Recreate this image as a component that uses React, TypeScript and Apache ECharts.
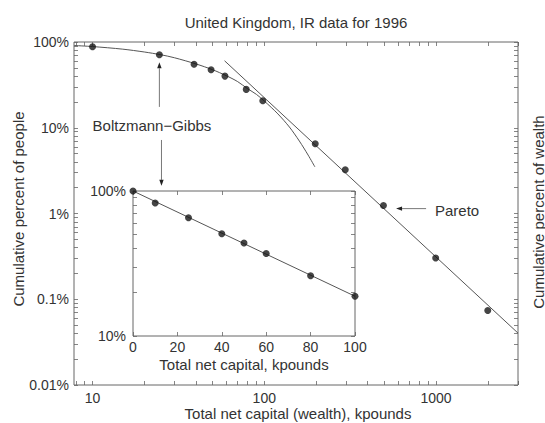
import React, { useEffect, useRef } from "react";
import * as echarts from "echarts";

// ---------- texts ----------
const titleText = "United Kingdom, IR data for 1996";
const xAxisTitle = "Total net capital (wealth), kpounds";
const yAxisTitle = "Cumulative percent of people";
const rightAxisTitle = "Cumulative percent of wealth";
const insetXAxisTitle = "Total net capital, kpounds";
const bgLabel = "Boltzmann\u2212Gibbs";
const paretoLabel = "Pareto";

// ---------- main plot data (kpounds, cumulative percent of people) ----------
const mainWealth = [10, 24.5, 39, 49, 59, 78.5, 98, 198, 296, 494, 995, 2000];
const mainPercent = [88, 71, 55, 47.4, 40, 28, 20.6, 6.5, 3.24, 1.24, 0.303, 0.074];

// Boltzmann-Gibbs (exponential) curve
const bgWealth = [7.8, 10, 15, 20, 25, 30, 40, 50, 60, 70, 80, 90, 100, 120, 140, 160, 180, 197];
const bgPercent = [91, 88.5, 82.5, 76.5, 71, 65.5, 55.5, 47.5, 40.5, 34.5, 28.5, 24.5, 20.5, 14.5, 10.2, 7.0, 4.8, 3.5];

// Pareto (power-law) straight line end points
const paretoWealth = [58.7, 3000];
const paretoPercent = [60.4, 0.0403];

// ---------- inset data (log-linear) ----------
const insetWealth = [0, 10, 25, 40, 50, 60, 80, 100];
const insetPercent = [100, 82.6, 65.3, 50.7, 43.8, 37.1, 26.0, 18.8];
const insetFitWealth = [0, 100];
const insetFitPercent = [100, 18.8];

// ---------- ticks / labels ----------
const mainXMajor = [10, 100, 1000];
const mainXLabels = ["10", "100", "1000"];
const mainXRange = [7.8, 3000];
const mainYMajor = [0.01, 0.1, 1, 10, 100];
const mainYLabels = ["0.01%", "0.1%", "1%", "10%", "100%"];
const minorMantissas = [1, 2, 3, 4, 5, 6, 7, 8, 9];
const mainXDecades = [1, 10, 100, 1000];
const mainYDecades = [0.01, 0.1, 1, 10];
const insetXTicks = [0, 20, 40, 60, 80, 100];
const insetYMajor = [10, 100];
const insetYLabels = ["10%", "100%"];

const lg = Math.log10;
const FONT = '"Liberation Sans", Arial, Helvetica, sans-serif';
const TEXT = "#333";
const LINE = "#555";
const FRAME = "#666";

function pickLabel(majors: number[], labels: string[]) {
  return (v: number) => {
    const i = majors.findIndex((m) => Math.abs(lg(m) - v) < 1e-6);
    return i >= 0 ? labels[i] : "";
  };
}

function logTicks(decades: number[], lo: number, hi: number) {
  const out: number[] = [];
  decades.forEach((d) =>
    minorMantissas.forEach((m) => {
      const v = m * d;
      if (v >= lo - 1e-9 && v <= hi + 1e-9) out.push(lg(v));
    })
  );
  out.push(lg(hi));
  return out;
}

export default function App() {
  const ref = useRef<HTMLDivElement>(null);
  useEffect(() => {
    if (!ref.current) return;
    const chart = echarts.init(ref.current, undefined, { renderer: "svg" });

    const xMin = lg(mainXRange[0]);
    const xMax = lg(mainXRange[1]);
    const mainXTicks = logTicks(mainXDecades, mainXRange[0], mainXRange[1]);
    const mainYTicks = logTicks(mainYDecades, 0.01, 100);
    const insetYTicks = logTicks([10], 10, 100);

    const tickStyle = { color: FRAME, width: 0.8 };
    const labelBase = { fontSize: 14, color: TEXT, fontFamily: FONT };
    const noLine = { show: false, onZero: false };

    const mainX = (position: string, labels: boolean) => ({
      gridIndex: 0,
      type: "value",
      min: xMin,
      max: xMax,
      position,
      axisLine: noLine,
      splitLine: { show: false },
      axisTick: { show: true, inside: true, length: 4, customValues: mainXTicks, lineStyle: tickStyle },
      axisLabel: labels
        ? { ...labelBase, margin: 6, customValues: mainXMajor.map(lg), formatter: pickLabel(mainXMajor, mainXLabels) }
        : { show: false },
    });
    const mainY = (position: string, labels: boolean) => ({
      gridIndex: 0,
      type: "value",
      min: -2,
      max: 2,
      position,
      axisLine: noLine,
      splitLine: { show: false },
      axisTick: { show: true, inside: true, length: 4, customValues: mainYTicks, lineStyle: tickStyle },
      axisLabel: labels
        ? { ...labelBase, margin: 5, customValues: mainYMajor.map(lg), formatter: pickLabel(mainYMajor, mainYLabels) }
        : { show: false },
    });
    const insetX = (position: string, labels: boolean) => ({
      gridIndex: 1,
      type: "value",
      min: 0,
      max: 100,
      interval: 20,
      position,
      axisLine: noLine,
      splitLine: { show: false },
      axisTick: { show: true, inside: true, length: 4, customValues: insetXTicks, lineStyle: tickStyle },
      axisLabel: labels ? { ...labelBase, margin: 4, customValues: insetXTicks } : { show: false },
    });
    const insetY = (position: string, labels: boolean) => ({
      gridIndex: 1,
      type: "value",
      min: 1,
      max: 2,
      position,
      axisLine: noLine,
      splitLine: { show: false },
      axisTick: { show: true, inside: true, length: 4, customValues: insetYTicks, lineStyle: tickStyle },
      axisLabel: labels
        ? { ...labelBase, margin: 7, customValues: insetYMajor.map(lg), formatter: pickLabel(insetYMajor, insetYLabels) }
        : { show: false },
    });

    const pts = (xs: number[], ys: number[], logX: boolean) =>
      xs.map((x, i) => [logX ? lg(x) : x, lg(ys[i])]);

    const option: any = {
      animation: false,
      backgroundColor: "#fff",
      textStyle: { fontFamily: FONT },
      grid: [
        { left: 74, top: 42, width: 444, height: 343, show: true, borderColor: FRAME, borderWidth: 1, backgroundColor: "transparent" },
        { left: 133, top: 191, width: 222, height: 145, show: true, borderColor: FRAME, borderWidth: 1, backgroundColor: "transparent" },
      ],
      xAxis: [mainX("bottom", true), mainX("top", false), insetX("bottom", true), insetX("top", false)],
      yAxis: [mainY("left", true), mainY("right", false), insetY("left", true), insetY("right", false)],
      series: [
        {
          type: "line",
          xAxisIndex: 0,
          yAxisIndex: 0,
          data: pts(bgWealth, bgPercent, true),
          showSymbol: false,
          smooth: 0.3,
          lineStyle: { color: LINE, width: 1 },
        },
        {
          type: "line",
          xAxisIndex: 0,
          yAxisIndex: 0,
          data: pts(paretoWealth, paretoPercent, true),
          showSymbol: false,
          lineStyle: { color: LINE, width: 1 },
        },
        {
          type: "scatter",
          xAxisIndex: 0,
          yAxisIndex: 0,
          data: pts(mainWealth, mainPercent, true),
          symbolSize: 7,
          itemStyle: { color: "#161616" },
          z: 5,
        },
        {
          type: "line",
          xAxisIndex: 2,
          yAxisIndex: 2,
          data: pts(insetFitWealth, insetFitPercent, false),
          showSymbol: false,
          lineStyle: { color: LINE, width: 1 },
        },
        {
          type: "scatter",
          xAxisIndex: 2,
          yAxisIndex: 2,
          data: pts(insetWealth, insetPercent, false),
          symbolSize: 7,
          itemStyle: { color: "#161616" },
          z: 5,
        },
      ],
    };
    chart.setOption(option);

    const px = (x: number, pct: number) =>
      chart.convertToPixel({ xAxisIndex: 0, yAxisIndex: 0 }, [lg(x), lg(pct)]) as number[];

    const arrow = (from: number[], to: number[]) => {
      const dx = to[0] - from[0];
      const dy = to[1] - from[1];
      const len = Math.hypot(dx, dy) || 1;
      const ux = dx / len, uy = dy / len;
      const nx = -uy, ny = ux;
      const hl = 6, hw = 2.2;
      const bx = to[0] - ux * hl, by = to[1] - uy * hl;
      return [
        { type: "line", shape: { x1: from[0], y1: from[1], x2: bx, y2: by }, style: { stroke: LINE, lineWidth: 0.8 }, z: 10 },
        {
          type: "polygon",
          shape: { points: [[to[0], to[1]], [bx + nx * hw, by + ny * hw], [bx - nx * hw, by - ny * hw]] },
          style: { fill: "#222" },
          z: 10,
        },
      ];
    };

    const textEl = (x: number, y: number, text: string, align: string, rotation = 0) => ({
      type: "text",
      x,
      y,
      rotation,
      z: 10,
      style: {
        text,
        fontSize: 15,
        fontFamily: FONT,
        fill: TEXT,
        align,
        verticalAlign: "middle",
        textAlign: align,
        textVerticalAlign: "middle",
      },
    });

    const bgPos = px(10, 10.5);
    const parPos = px(986, 1.07);
    const graphic: any[] = [
      textEl(296, 22, titleText, "center"),
      textEl(298, 413, xAxisTitle, "center"),
      textEl(18, 209, yAxisTitle, "center", Math.PI / 2),
      textEl(538, 212, rightAxisTitle, "center", Math.PI / 2),
      textEl(244, 364, insetXAxisTitle, "center"),
      textEl(bgPos[0], bgPos[1], bgLabel, "left"),
      textEl(parPos[0], parPos[1], paretoLabel, "left"),
      ...arrow(px(24.5, 17.5), px(24.5, 58)),
      ...arrow(px(25.2, 7.2), px(25.2, 2.1)),
      ...arrow(px(875, 1.14), px(585, 1.14)),
    ];
    chart.setOption({ graphic });

    return () => chart.dispose();
  }, []);

  return <div ref={ref} style={{ width: 545, height: 423, position: "absolute", left: 0, top: 0 }} />;
}
